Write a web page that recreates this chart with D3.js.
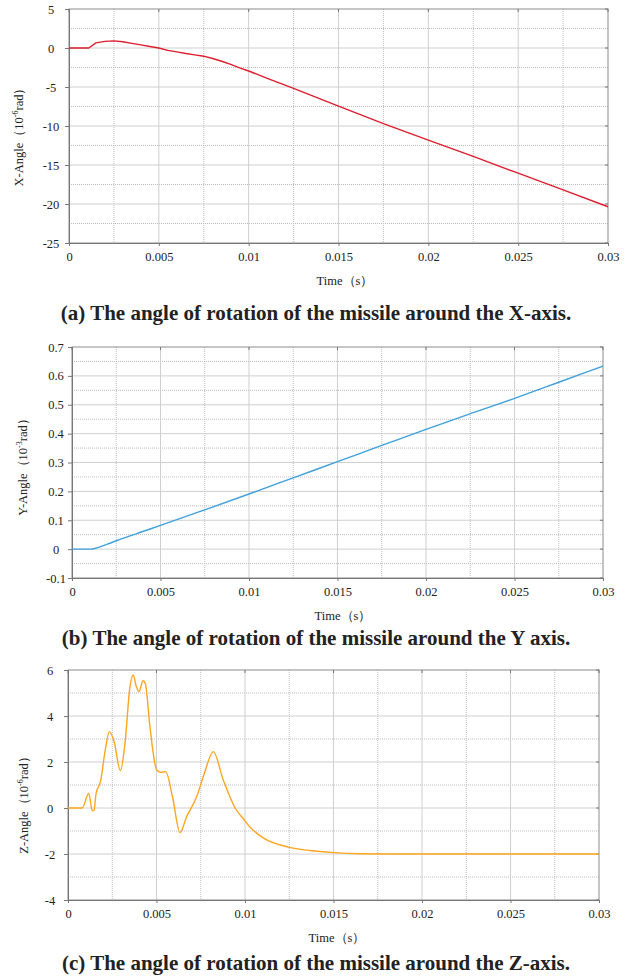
<!DOCTYPE html>
<html>
<head>
<meta charset="utf-8">
<script src="https://cdn.jsdelivr.net/npm/d3@7"></script>
<style>
  html, body { margin: 0; padding: 0; background: #fff; }
  svg { display: block; }
  text { font-family: "Liberation Serif", "Times New Roman", serif; fill: #222; }
</style>
</head>
<body>
<svg id="fig" width="632" height="977"></svg>
<script>
// Time axis shared by all three panels (s)
const timeTicks = [0, 0.005, 0.01, 0.015, 0.02, 0.025, 0.03];
const timeTickLabels = ["0", "0.005", "0.01", "0.015", "0.02", "0.025", "0.03"];

// (a) rotation about X, 10^-6 rad
const timeX = [0, 0.0011, 0.0015, 0.002, 0.0025, 0.003, 0.0035, 0.004, 0.0045, 0.005,
  0.0055, 0.006, 0.0065, 0.007, 0.0075, 0.008, 0.0085, 0.009, 0.0095, 0.01,
  0.011, 0.0125, 0.015, 0.0175, 0.02, 0.0225, 0.025, 0.0275, 0.03];
const angleX = [0, 0, 0.65, 0.85, 0.92, 0.8, 0.6, 0.4, 0.2, 0,
  -0.3, -0.5, -0.7, -0.88, -1.05, -1.35, -1.7, -2.1, -2.55, -2.95,
  -3.85, -5.17, -7.44, -9.7, -11.8, -13.9, -16.05, -18.2, -20.35];
const yTicksX = [5, 0, -5, -10, -15, -20, -25];
const yTickLabelsX = ["5", "0", "-5", "-10", "-15", "-20", "-25"];

// (b) rotation about Y, 10^-3 rad
const timeY = [0, 0.0011, 0.0015, 0.002, 0.0025, 0.003, 0.004, 0.005, 0.0075, 0.01,
  0.0125, 0.015, 0.0175, 0.02, 0.0225, 0.025, 0.0275, 0.03];
const angleY = [0, 0, 0.006, 0.017, 0.029, 0.04, 0.061, 0.082, 0.136, 0.191,
  0.247, 0.303, 0.359, 0.415, 0.469, 0.522, 0.578, 0.634];
const yTicksY = [0.7, 0.6, 0.5, 0.4, 0.3, 0.2, 0.1, 0, -0.1];
const yTickLabelsY = ["0.7", "0.6", "0.5", "0.4", "0.3", "0.2", "0.1", "0", "-0.1"];

// (c) rotation about Z, 10^-6 rad
const timeZ = [0, 0.0008, 0.00117, 0.00137, 0.00147, 0.00158, 0.00185, 0.0021, 0.00234, 0.0026,
  0.00296, 0.00322, 0.0035, 0.00369, 0.00385, 0.00401, 0.00424, 0.00437, 0.00463, 0.00501,
  0.00525, 0.00552, 0.0059, 0.00633, 0.0067, 0.00727, 0.0077, 0.00821, 0.00877, 0.00944,
  0.00996, 0.01028, 0.01103, 0.01245, 0.01367, 0.015, 0.0165, 0.018, 0.03];
const angleZ = [0, 0, 0.64, -0.1, -0.12, 0.6, 1.2, 2.5, 3.32, 2.9,
  1.62, 2.81, 5.27, 5.78, 5.3, 5.06, 5.53, 5.4, 3.53, 1.65,
  1.55, 1.58, 0.5, -1.07, -0.38, 0.49, 1.5, 2.45, 1.22, 0,
  -0.52, -0.83, -1.3, -1.7, -1.85, -1.94, -1.99, -2.0, -2.0];
const yTicksZ = [6, 4, 2, 0, -2, -4];
const yTickLabelsZ = ["6", "4", "2", "0", "-2", "-4"];

const svg = d3.select("#fig");

const panels = [
  {
    t: timeX, v: angleX, yTicks: yTicksX, yLabels: yTickLabelsX,
    yDomain: [-25, 5], yMinorStep: 2.5,
    box: { l: 69, r: 608, t: 9, b: 243 },
    color: "#dc1e2e", curve: d3.curveLinear,
    yName: "X-Angle", yExp: "-6", yLabelX: 23, yLabelY: 134,
    tickLabelDx: 18, timeX: 345,
    caption: "(a) The angle of rotation of the missile around the X-axis.",
    captionY: 320
  },
  {
    t: timeY, v: angleY, yTicks: yTicksY, yLabels: yTickLabelsY,
    yDomain: [-0.1, 0.7], yMinorStep: 0.05,
    box: { l: 72, r: 603, t: 347, b: 578 },
    color: "#3ea0dc", curve: d3.curveMonotoneX,
    yName: "Y-Angle", yExp: "-3", yLabelX: 27, yLabelY: 464,
    tickLabelDx: 16, timeX: 343,
    caption: "(b) The angle of rotation of the missile around the Y axis.",
    captionY: 645
  },
  {
    t: timeZ, v: angleZ, yTicks: yTicksZ, yLabels: yTickLabelsZ,
    yDomain: [-4, 6], yMinorStep: 1,
    box: { l: 68, r: 599, t: 670, b: 900 },
    color: "#ffa51f", curve: d3.curveMonotoneX,
    yName: "Z-Angle", yExp: "-6", yLabelX: 28, yLabelY: 802,
    tickLabelDx: 18, timeX: 337,
    caption: "(c) The angle of rotation of the missile around the Z-axis.",
    captionY: 970
  }
];

panels.forEach(p => {
  const { l, r, t, b } = p.box;
  const x = d3.scaleLinear().domain([0, 0.03]).range([l, r]);
  const y = d3.scaleLinear().domain(p.yDomain).range([b, t]);
  const g = svg.append("g");

  // dotted minor grid
  const xMinor = d3.range(0.0025, 0.03, 0.005);
  const yMinor = d3.range(p.yDomain[0] + p.yMinorStep, p.yDomain[1], p.yMinorStep * 2);
  g.selectAll(".vminor").data(xMinor).join("line")
    .attr("x1", d => x(d)).attr("x2", d => x(d)).attr("y1", t).attr("y2", b)
    .attr("stroke", "#bdbdbd").attr("stroke-width", 1).attr("stroke-dasharray", "1,1");
  g.selectAll(".hminor").data(yMinor).join("line")
    .attr("x1", l).attr("x2", r).attr("y1", d => y(d)).attr("y2", d => y(d))
    .attr("stroke", "#bdbdbd").attr("stroke-width", 1).attr("stroke-dasharray", "1,1");

  // solid major grid
  g.selectAll(".vmajor").data(timeTicks.slice(1, -1)).join("line")
    .attr("x1", d => x(d)).attr("x2", d => x(d)).attr("y1", t).attr("y2", b)
    .attr("stroke", "#cfcfcf").attr("stroke-width", 1);
  g.selectAll(".hmajor").data(p.yTicks.slice(1, -1)).join("line")
    .attr("x1", l).attr("x2", r).attr("y1", d => y(d)).attr("y2", d => y(d))
    .attr("stroke", "#cfcfcf").attr("stroke-width", 1);

  // frame
  g.append("rect").attr("x", l).attr("y", t).attr("width", r - l).attr("height", b - t)
    .attr("fill", "none").attr("stroke", "#8c8c8c").attr("stroke-width", 1);

  // inner ticks on top and right edges
  g.selectAll(".ttick").data(timeTicks).join("line")
    .attr("x1", d => x(d)).attr("x2", d => x(d)).attr("y1", t).attr("y2", t + 3)
    .attr("stroke", "#777");
  g.selectAll(".rtick").data(p.yTicks).join("line")
    .attr("x1", r - 3).attr("x2", r).attr("y1", d => y(d)).attr("y2", d => y(d))
    .attr("stroke", "#777");

  // bottom axis
  const xa = g.append("g").attr("transform", `translate(0,${b})`)
    .call(d3.axisBottom(x).tickValues(timeTicks)
      .tickFormat((d, i) => timeTickLabels[i]).tickSize(3).tickPadding(6));
  xa.select(".domain").attr("stroke", "#777");
  xa.selectAll(".tick line").attr("stroke", "#777");
  xa.selectAll("text").attr("font-size", 12.5).attr("fill", "#222")
    .attr("font-family", "Liberation Serif, serif");

  // left axis, labels centred
  const ya = g.append("g").attr("transform", `translate(${l},0)`)
    .call(d3.axisLeft(y).tickValues(p.yTicks)
      .tickFormat((d, i) => p.yLabels[i]).tickSize(4));
  ya.select(".domain").attr("stroke", "#777");
  ya.selectAll(".tick line").attr("stroke", "#777");
  ya.selectAll("text").attr("font-size", 12.5).attr("fill", "#222")
    .attr("font-family", "Liberation Serif, serif")
    .attr("text-anchor", "middle").attr("x", -p.tickLabelDx);

  // data line
  const pts = p.t.map((tv, i) => [tv, p.v[i]]);
  g.append("path").datum(pts)
    .attr("fill", "none").attr("stroke", p.color).attr("stroke-width", 1.4)
    .attr("stroke-linejoin", "round")
    .attr("d", d3.line().x(d => x(d[0])).y(d => y(d[1])).curve(p.curve));

  // axis titles
  g.append("text").attr("x", p.timeX).attr("y", b + 42)
    .attr("text-anchor", "middle").attr("font-size", 12.5).text("Time（s）");

  const yl = g.append("text")
    .attr("transform", `translate(${p.yLabelX},${p.yLabelY}) rotate(-90)`)
    .attr("text-anchor", "middle").attr("font-size", 12.5);
  yl.append("tspan").text(p.yName + "（10");
  yl.append("tspan").attr("dy", -5).attr("font-size", 8).text(p.yExp);
  yl.append("tspan").attr("dy", 5).text("rad）");

  // caption
  svg.append("text").attr("x", 316).attr("y", p.captionY)
    .attr("text-anchor", "middle").attr("font-size", 21).attr("font-weight", "bold")
    .attr("fill", "#000").text(p.caption);
});
</script>
</body>
</html>
